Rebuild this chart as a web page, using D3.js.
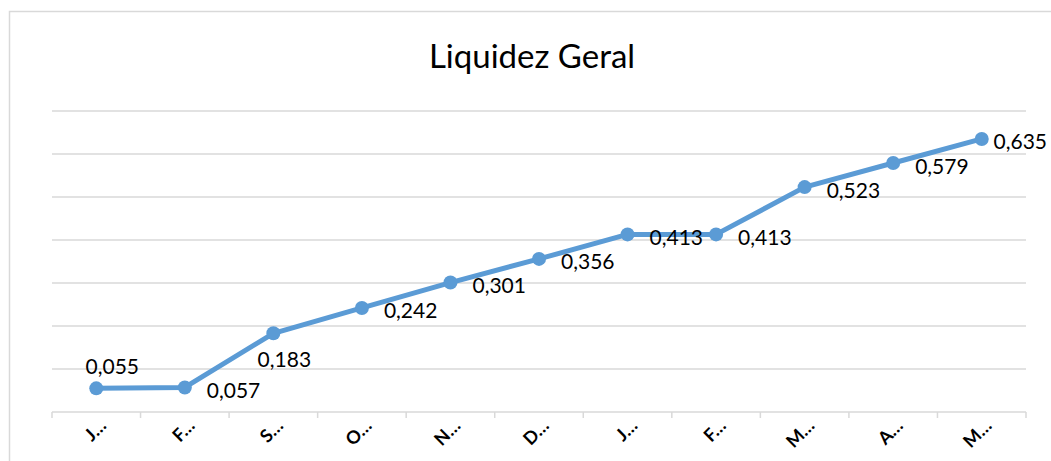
<!DOCTYPE html>
<html lang="pt">
<head>
<meta charset="UTF-8">
<title>Liquidez Geral</title>
<script src="https://d3js.org/d3.v7.min.js"></script>
<style>
  body { margin: 0; background: #fff; }
  svg { display: block; font-family: Lato, "Open Sans", sans-serif; }
</style>
</head>
<body>
<svg id="chart" width="1051" height="461"></svg>
<script>
'use strict';

// data
const months = ['J…', 'F…', 'S…', 'O…', 'N…', 'D…', 'J…', 'F…', 'M…', 'A…', 'M…'];
const values = [0.055, 0.057, 0.183, 0.242, 0.301, 0.356, 0.413, 0.413, 0.523, 0.579, 0.635];
const labelPos = ['top', 'right', 'bottom', 'right', 'right', 'right', 'right', 'right', 'right', 'right', 'right'];
const yTicks = [0, 0.1, 0.2, 0.3, 0.4, 0.5, 0.6, 0.7];

const W = 1051, H = 461;
const m = { left: 52, right: 25, top: 111, bottom: 49 };
const svg = d3.select('#chart');

// chart frame (only left/top edges fall inside the picture)
svg.append('rect')
    .attr('x', 9.5).attr('y', 11.5)
    .attr('width', 1060).attr('height', 470)
    .attr('fill', 'none').attr('stroke', '#d9d9d9').attr('stroke-width', 1.5);

const x = d3.scaleBand().domain(d3.range(months.length))
    .range([m.left, W - m.right]);
const y = d3.scaleLinear().domain([0, 0.7]).range([H - m.bottom, m.top]);

// gridlines
svg.append('g')
    .selectAll('line')
    .data(yTicks.slice(1))
    .join('line')
    .attr('x1', m.left).attr('x2', W - m.right)
    .attr('y1', d => y(d)).attr('y2', d => y(d))
    .attr('stroke', '#d9d9d9').attr('stroke-width', 1.5);

// x axis
const xAxis = svg.append('g').attr('transform', `translate(0,${y(0)})`);
xAxis.append('line')
    .attr('x1', m.left).attr('x2', W - m.right)
    .attr('stroke', '#d9d9d9').attr('stroke-width', 1.5);
xAxis.selectAll('.tick')
    .data(d3.range(months.length + 1))
    .join('line')
    .attr('x1', i => m.left + i * x.step()).attr('x2', i => m.left + i * x.step())
    .attr('y1', 0).attr('y2', 6)
    .attr('stroke', '#d9d9d9').attr('stroke-width', 1.5);
xAxis.selectAll('text')
    .data(months)
    .join('text')
    .attr('transform', (d, i) => `translate(${x(i) + x.bandwidth() / 2 + 11},${15}) rotate(-45)`)
    .attr('text-anchor', 'end')
    .attr('font-size', 18)
    .attr('font-weight', 'bold')
    .attr('fill', '#000')
    .text(d => d);

// title
svg.append('text')
    .attr('x', 532).attr('y', 68)
    .attr('text-anchor', 'middle')
    .attr('font-size', 33)
    .attr('fill', '#000')
    .text('Liquidez Geral');

// line + markers
const cx = i => x(i) + x.bandwidth() / 2;
svg.append('path')
    .datum(values)
    .attr('d', d3.line().x((d, i) => cx(i)).y(d => y(d)))
    .attr('fill', 'none')
    .attr('stroke', '#5b9bd5')
    .attr('stroke-width', 5)
    .attr('stroke-linejoin', 'round');

svg.append('g')
    .selectAll('circle')
    .data(values)
    .join('circle')
    .attr('cx', (d, i) => cx(i))
    .attr('cy', d => y(d))
    .attr('r', 7)
    .attr('fill', '#5b9bd5');

// data labels
const fmt = v => d3.format('.3f')(v).replace('.', ',');
svg.append('g')
    .selectAll('text')
    .data(values)
    .join('text')
    .attr('font-size', 21)
    .attr('fill', '#000')
    .attr('dominant-baseline', 'central')
    .text(d => fmt(d))
    .each(function (d, i) {
        const t = d3.select(this);
        const w = this.getComputedTextLength();
        let lx, ly = y(d) + 2;
        if (labelPos[i] === 'top') { lx = cx(i) - w / 2 + 16; ly = y(d) - 23; }
        else if (labelPos[i] === 'bottom') { lx = cx(i) - w / 2 + 11; ly = y(d) + 25; }
        else lx = cx(i) + 22;
        lx = Math.min(lx, W - 4 - w);
        t.attr('x', lx).attr('y', ly);
    });
</script>
</body>
</html>
